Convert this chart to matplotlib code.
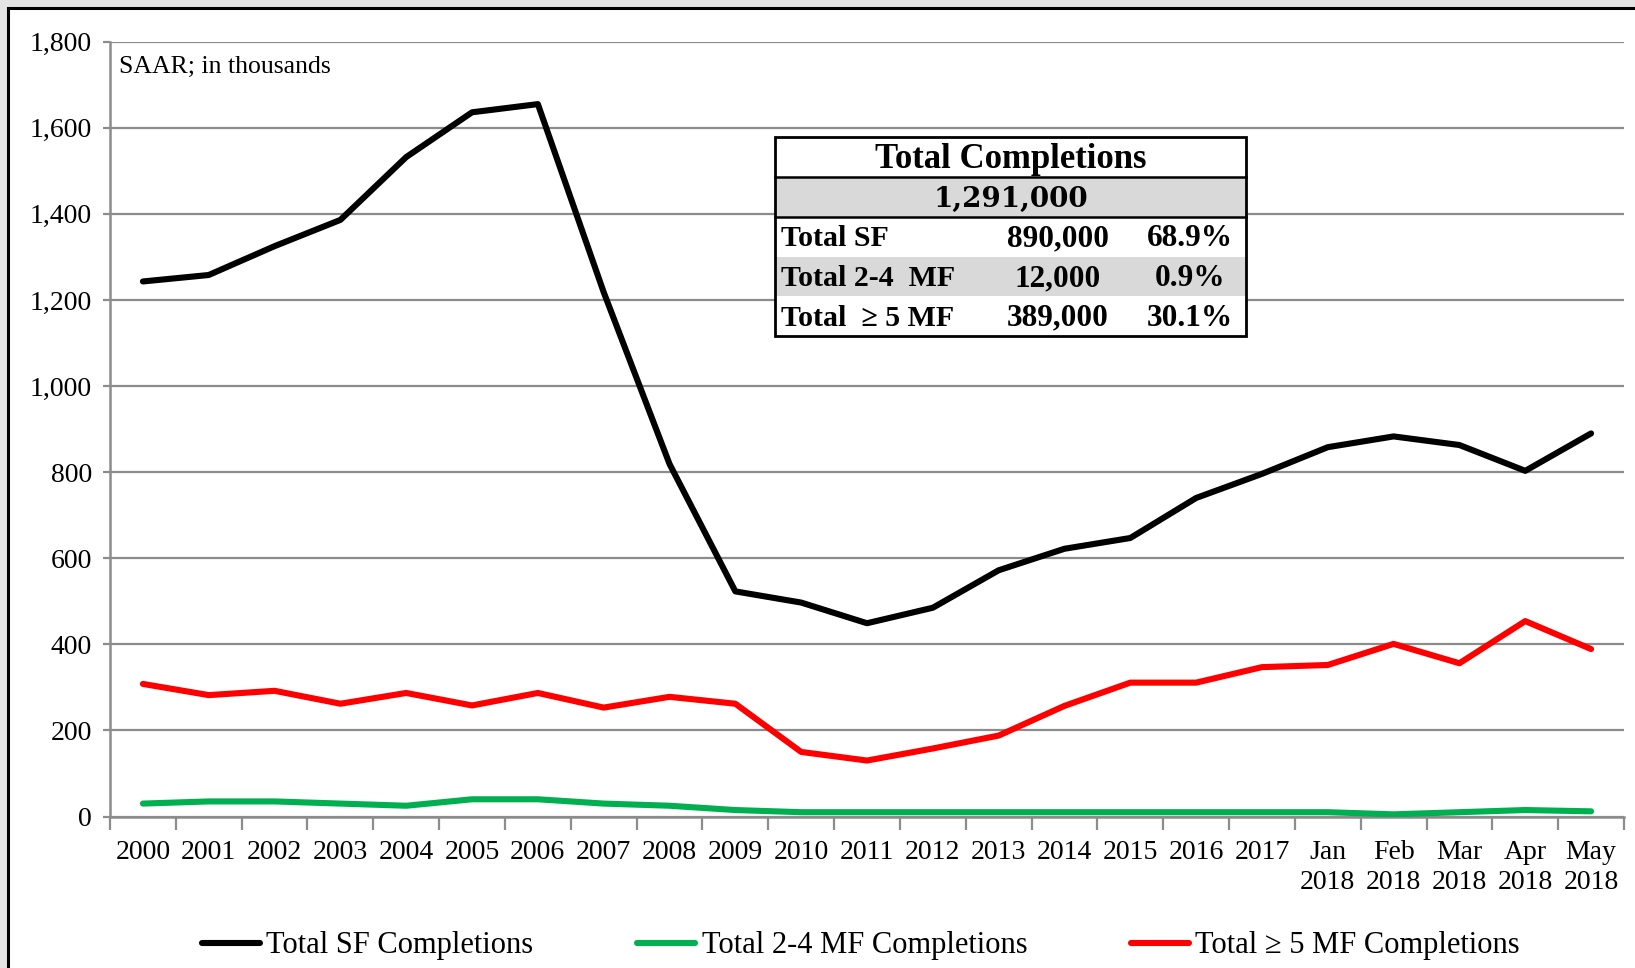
import matplotlib.pyplot as plt
from matplotlib.patches import Rectangle
from matplotlib.lines import Line2D

plt.rcParams['font.family'] = ['Liberation Serif', 'DejaVu Serif']

# categories and series (thousands, SAAR)
labels = ['2000', '2001', '2002', '2003', '2004', '2005', '2006', '2007', '2008',
          '2009', '2010', '2011', '2012', '2013', '2014', '2015', '2016', '2017',
          'Jan\n2018', 'Feb\n2018', 'Mar\n2018', 'Apr\n2018', 'May\n2018']
sf = [1243, 1258, 1325, 1386, 1532, 1636, 1655, 1218, 819, 523, 497, 449, 485,
      572, 622, 647, 740, 796, 858, 883, 863, 803, 890]
mf24 = [30, 35, 35, 30, 25, 40, 40, 30, 25, 15, 10, 10, 10, 10, 10, 10, 10, 10,
        10, 5, 10, 15, 12]
mf5 = [308, 282, 292, 262, 287, 258, 287, 253, 278, 262, 150, 130, 158, 188,
       257, 311, 311, 347, 352, 401, 356, 454, 389]

table_title = 'Total Completions'
table_total = '1,291,000'
table_rows = [('Total SF', '890,000', '68.9%'),
              ('Total 2-4  MF', '12,000', '0.9%'),
              ('Total  \u2265 5 MF', '389,000', '30.1%')]

W, H = 1635, 968
fig = plt.figure(figsize=(W / 100, H / 100), dpi=100, facecolor='#e4e4e4')

# white frame with black left/top border
fig.patches.append(Rectangle((8 / W, -0.01), 1, 1.01 - 8 / H, transform=fig.transFigure,
                             facecolor='white', edgecolor='black', linewidth=2.2,
                             zorder=-1))

ax = fig.add_axes([110 / W, 151.5 / H, 1514 / W, 774.8 / H])
ax.set_zorder(1)
ax.set_facecolor('white')
x = list(range(len(labels)))

ax.plot(x, sf, color='black', lw=4.4, solid_capstyle='round', label='Total SF Completions', zorder=3)
ax.plot(x, mf24, color='#00B050', lw=4.4, solid_capstyle='round', label='Total 2-4 MF Completions', zorder=3)
ax.plot(x, mf5, color='#FF0000', lw=4.4, solid_capstyle='round', label='Total \u2265 5 MF Completions', zorder=3)

ax.set_xlim(-0.5, len(labels) - 0.5)
ax.set_ylim(0, 1800)
ax.set_yticks(range(0, 1801, 200))
ax.set_yticklabels([f'{v:,}' for v in range(0, 1801, 200)], fontsize=20)
ax.yaxis.grid(True, color='#8c8c8c', lw=1.6)
ax.set_axisbelow(True)

ax.set_xticks([i - 0.5 for i in range(len(labels) + 1)])
ax.set_xticklabels([])
ax.set_xticks(x, minor=True)
ax.set_xticklabels(labels, minor=True, fontsize=20, linespacing=1.28)
ax.tick_params(axis='x', which='major', length=9, width=1.6, color='#8c8c8c', direction='out')
ax.tick_params(axis='x', which='minor', length=0, pad=17)
ax.tick_params(axis='y', length=5, width=1.6, color='#8c8c8c', pad=8)

for s in ['top', 'right']:
    ax.spines[s].set_visible(False)
for s in ['left', 'bottom']:
    ax.spines[s].set_color('#8c8c8c')
    ax.spines[s].set_linewidth(1.8)

ax.text(0.006, 0.981, 'SAAR; in thousands', transform=ax.transAxes, fontsize=18.5,
        ha='left', va='top')

# summary table (figure pixel coords from top)
def fx(px):
    return px / W

def fy(py):
    return 1 - py / H

t_left, t_right = 775, 1246
rows_y = [137, 177, 217, 257, 296, 336]
fig.patches.append(Rectangle((fx(t_left), fy(rows_y[-1])), fx(t_right - t_left),
                             (rows_y[-1] - rows_y[0]) / H, transform=fig.transFigure,
                             facecolor='white', edgecolor='none', zorder=3))
for i in [1, 3]:
    fig.patches.append(Rectangle((fx(t_left), fy(rows_y[i + 1])), fx(t_right - t_left),
                                 (rows_y[i + 1] - rows_y[i]) / H, transform=fig.transFigure,
                                 facecolor='#d9d9d9', edgecolor='none', zorder=4))
fig.patches.append(Rectangle((fx(t_left), fy(rows_y[-1])), fx(t_right - t_left),
                             (rows_y[-1] - rows_y[0]) / H, transform=fig.transFigure,
                             facecolor='none', edgecolor='black', linewidth=2, zorder=6))
for yy in rows_y[1:3]:
    fig.add_artist(Line2D([fx(t_left), fx(t_right)], [fy(yy), fy(yy)], color='black',
                          lw=1.8, transform=fig.transFigure, zorder=6))

mid = (t_left + t_right) / 2
fig.text(fx(mid), fy((rows_y[0] + rows_y[1]) / 2 + 2), table_title, ha='center', va='center',
         fontsize=25, fontweight='bold', zorder=7)
fig.text(fx(mid), fy((rows_y[1] + rows_y[2]) / 2 + 2), table_total, ha='center', va='center',
         fontsize=20, fontweight='bold', family='DejaVu Serif', zorder=7)
for i, (name, val, pct) in enumerate(table_rows):
    yc = fy((rows_y[i + 2] + rows_y[i + 3]) / 2 + 2)
    fig.text(fx(781), yc, name, ha='left', va='center', fontsize=21.5, fontweight='bold', zorder=7)
    fig.text(fx(1058), yc, val, ha='center', va='center', fontsize=22.5, fontweight='bold', zorder=7)
    fig.text(fx(1190), yc, pct, ha='center', va='center', fontsize=22.5, fontweight='bold', zorder=7)

fig.legend(loc='center', bbox_to_anchor=(861 / W, 22 / H), ncol=3, frameon=False,
           fontsize=22, handlelength=1.9, handletextpad=0.2, columnspacing=3.4)

fig.savefig('out.png', dpi=100, facecolor=fig.get_facecolor())
